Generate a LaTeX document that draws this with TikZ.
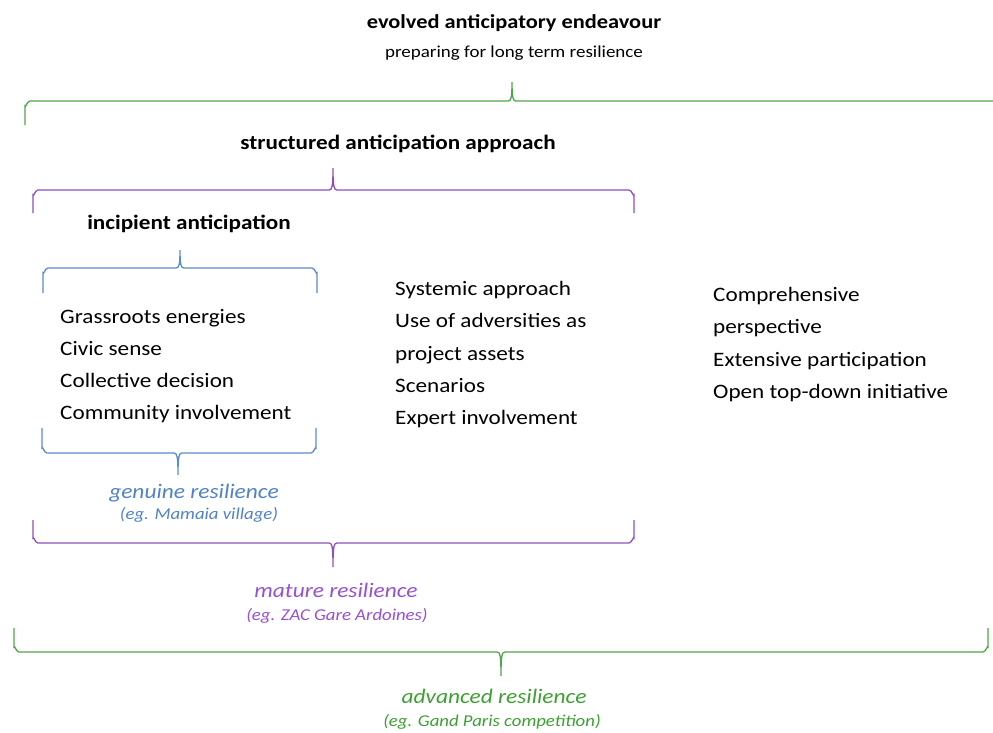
\documentclass[tikz,border=0pt]{standalone}
\usepackage{fontspec}
\setmainfont[FakeStretch=1.13]{Carlito}
\definecolor{bgreen}{RGB}{80,165,70}
\definecolor{tgreen}{RGB}{60,160,50}
\definecolor{bpurple}{RGB}{140,80,190}
\definecolor{tpurple}{RGB}{150,80,210}
\definecolor{bblue}{RGB}{90,140,205}
\definecolor{tblue}{RGB}{80,130,200}
\begin{document}
\begin{tikzpicture}[x=1pt,y=-1pt,
  bodytext/.style={anchor=base west,inner sep=0pt,font=\fontsize{20.5}{24}\selectfont},
  headtext/.style={anchor=base,inner sep=0pt,font=\fontsize{20.5}{24}\bfseries},
  captext/.style={anchor=base,inner sep=0pt,font=\fontsize{20.7}{24}\itshape},
  subtext/.style={anchor=base,inner sep=0pt,font=\fontsize{16.6}{20}\itshape},
  brk/.style={line width=1.3pt}]
\useasboundingbox (0,0) rectangle (993,732);
% up-bracket: left x, right x, peak x, horizontal y, peak y, end y, colour
\newcommand{\upbrk}[7]{%
  \draw[brk,#7] (#1,#6) -- (#1,#4+5) to[out=-90,in=180] (#1+5,#4) -- (#3-4,#4)
    .. controls (#3-1,#4) and (#3,#4-3) .. (#3,#5)
    .. controls (#3,#4-3) and (#3+1,#4) .. (#3+4,#4) -- (#2-5,#4)
    to[out=0,in=-90] (#2,#4+5) -- (#2,#6);}
\newcommand{\downbrk}[7]{%
  \draw[brk,#7] (#1,#6) -- (#1,#4-5) to[out=90,in=180] (#1+5,#4) -- (#3-4,#4)
    .. controls (#3-1,#4) and (#3,#4+3) .. (#3,#5)
    .. controls (#3,#4+3) and (#3+1,#4) .. (#3+4,#4) -- (#2-5,#4)
    to[out=0,in=90] (#2,#4-5) -- (#2,#6);}
% brackets
\draw[brk,bgreen] (25,125) -- (25,106) to[out=-90,in=180] (30,101) -- (508,101)
    .. controls (511,101) and (512,98) .. (512,82)
    .. controls (512,98) and (513,101) .. (516,101) -- (993,101);
\upbrk{33}{634}{333}{190}{168}{213}{bpurple}
\upbrk{43}{317}{180}{268}{250}{293}{bblue}
\downbrk{42}{316}{178}{453}{475}{428}{bblue}
\downbrk{33}{634}{333}{543}{567}{520}{bpurple}
\downbrk{14}{988}{501}{652}{676}{628}{bgreen}
% headings
\node[headtext,font=\fontsize{19.8}{24}\bfseries] (t1) at (514,28) {evolved anticipatory endeavour};
\node[anchor=base,inner sep=0pt,font=\fontsize{16.8}{20}\selectfont] (t2) at (514,57) {preparing for long term resilience};
\node[headtext] (t3) at (398,149) {structured anticipation approach};
\node[headtext] (t4) at (189,229) {incipient anticipation};
% left list
\node[bodytext] (l1) at (60,323) {Grassroots energies};
\node[bodytext] (l2) at (60,355) {Civic sense};
\node[bodytext] (l3) at (60,387) {Collective decision};
\node[bodytext] (l4) at (60,419) {Community involvement};
% middle list
\node[bodytext] (m1) at (395,295) {Systemic approach};
\node[bodytext] (m2) at (395,327) {Use of adversities as};
\node[bodytext] (m3) at (395,360) {project assets};
\node[bodytext] (m4) at (395,392) {Scenarios};
\node[bodytext] (m5) at (395,424) {Expert involvement};
% right list
\node[bodytext] (r1) at (713,301) {Comprehensive};
\node[bodytext] (r2) at (713,333) {perspective};
\node[bodytext] (r3) at (713,366) {Extensive participation};
\node[bodytext] (r4) at (713,398) {Open top-down initiative};
% captions
\node[captext,tblue] (c1) at (194,498) {genuine resilience};
\node[subtext,tblue] (s1) at (199,519) {(eg. Mamaia village)};
\node[captext,tpurple] (c2) at (336,597) {mature resilience};
\node[subtext,tpurple] (s2) at (337,620) {(eg. ZAC Gare Ardoines)};
\node[captext,tgreen] (c3) at (494,703) {advanced resilience};
\node[subtext,tgreen] (s3) at (492,726) {(eg. Gand Paris competition)};
\end{tikzpicture}
\end{document}
